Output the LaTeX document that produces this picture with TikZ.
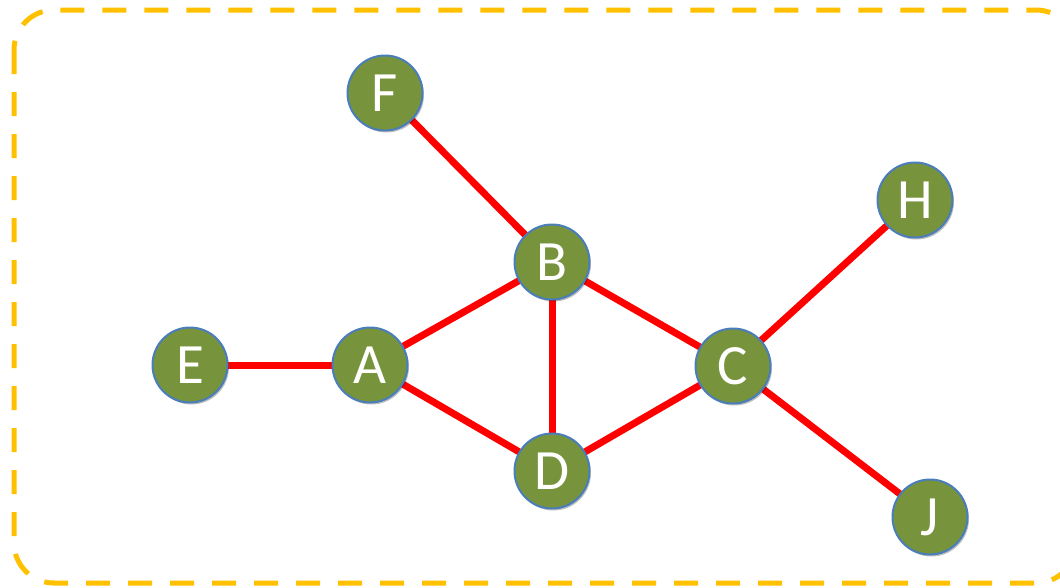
\documentclass[tikz,border=0pt]{standalone}
\usepackage{fontspec}
\setmainfont{Carlito}
\usetikzlibrary{shadows,backgrounds}
\definecolor{nodegreen}{HTML}{77933C}
\definecolor{nodeblue}{HTML}{4A7EBB}
\definecolor{frameorange}{HTML}{FFC000}
\begin{document}
\begin{tikzpicture}[x=1pt,y=-1pt,
  vertex/.style={circle,fill=nodegreen,draw=nodeblue,line width=2pt,minimum size=75pt,inner sep=0pt,
    text=white,font=\fontsize{57}{57}\selectfont,
    drop shadow={shadow xshift=1.5pt,shadow yshift=-2pt,opacity=0.25,fill=black}},
  link/.style={draw=red,line width=7pt},
  frame/.style={draw=frameorange,line width=5pt,dash pattern=on 24pt off 18pt,rounded corners=40pt}]
\useasboundingbox (0,0) rectangle (1060,587);
\draw[frame] (14,10) rectangle (1076,583);
\node[vertex] (F) at (385,93) {F};
\node[vertex] (B) at (552,262) {B};
\node[vertex] (H) at (915,200) {H};
\node[vertex] (E) at (190,365) {E};
\node[vertex] (A) at (370,365) {A};
\node[vertex] (C) at (733,366) {C};
\node[vertex] (D) at (552,471) {D};
\node[vertex] (J) at (930,517) {J};
\begin{pgfonlayer}{background}
\draw[link] (F.center) -- (B.center);
\draw[link] (B.center) -- (A.center);
\draw[link] (B.center) -- (D.center);
\draw[link] (B.center) -- (C.center);
\draw[link] (E.center) -- (A.center);
\draw[link] (A.center) -- (D.center);
\draw[link] (D.center) -- (C.center);
\draw[link] (C.center) -- (H.center);
\draw[link] (C.center) -- (J.center);
\end{pgfonlayer}
\end{tikzpicture}
\end{document}
